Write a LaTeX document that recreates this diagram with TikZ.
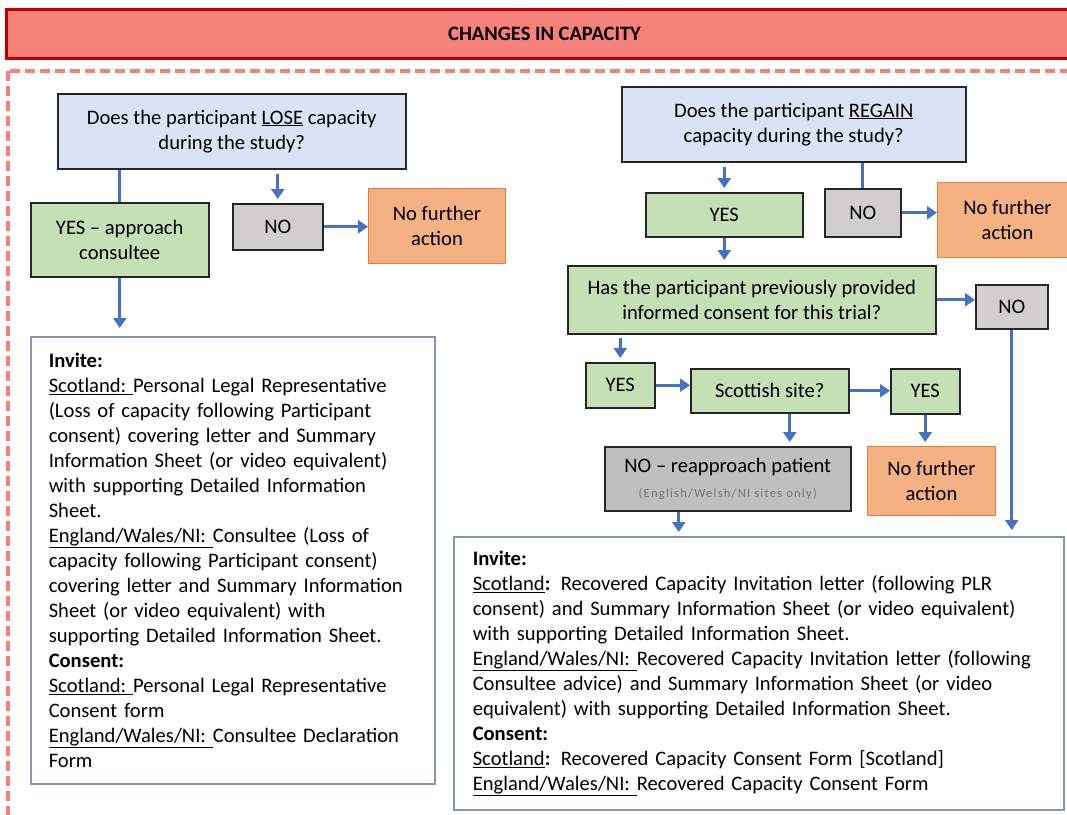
\documentclass[tikz,border=0pt]{standalone}
\usepackage{fontspec}
\setmainfont{Carlito}
\usepackage{xcolor}
\usetikzlibrary{arrows.meta,calc}

\definecolor{qblue}{HTML}{DAE3F3}
\definecolor{ygreen}{HTML}{C5E0B4}
\definecolor{ngray}{HTML}{D0CECE}
\definecolor{rgray}{HTML}{BFBFBF}
\definecolor{nfafill}{HTML}{F4B183}
\definecolor{nfaedge}{HTML}{ED7D31}
\definecolor{arrblue}{HTML}{4472C4}
\definecolor{titlefill}{HTML}{F6807A}
\definecolor{titleedge}{HTML}{C00000}
\definecolor{infoedge}{HTML}{8496B0}
\definecolor{boxedge}{HTML}{262626}

\newcommand{\bodyfont}{\fontsize{20.6}{25}\selectfont}
\newcommand{\tinyfont}{\fontsize{12.5}{14}\selectfont\addfontfeature{LetterSpace=10}\color{black!55}}

\tikzset{
  box/.style={draw=boxedge, line width=1.5pt, inner sep=0pt, align=center, anchor=north west, font=\bodyfont},
  qbox/.style={box, fill=qblue},
  ybox/.style={box, fill=ygreen},
  nbox/.style={box, fill=ngray},
  nfabox/.style={box, fill=nfafill, draw=nfaedge, line width=1pt},
  infobox/.style={draw=infoedge, line width=1.5pt, fill=white, anchor=north west, align=left, inner ysep=0pt, font=\bodyfont},
  link/.style={draw=arrblue, line width=3pt},
  arr/.style={link, -{Triangle[width=13pt,length=10pt]}},
}

\begin{document}
\begin{tikzpicture}[x=1pt, y=-1pt]
\useasboundingbox (0,0) rectangle (1067,814);
\clip (0,0) rectangle (1067,814);

% title and frame
\node[box, draw=titleedge, line width=3pt, fill=titlefill, minimum width=1076pt, minimum height=49pt, font=\fontsize{20.5}{24}\selectfont\bfseries] (title) at (5,8) {CHANGES IN CAPACITY};
\draw[titlefill, line width=4pt, dash pattern=on 10pt off 5pt] (8,71) rectangle (1120,900);

% lose capacity
\node[qbox, minimum width=348pt, minimum height=75pt] (lose) at (57,93) {Does the participant \underline{LOSE} capacity\\during the study?};
\node[ybox, minimum width=178pt, minimum height=74pt] (yesL) at (30,202) {YES -- approach\\consultee};
\node[nbox, minimum width=90pt, minimum height=46pt] (noL) at (232,203) {NO};
\node[nfabox, minimum width=137pt, minimum height=75pt] (nfaL) at (368,188) {No further\\action};
\node[infobox, text width=368pt, inner xsep=18pt, minimum height=447pt] (infoL) at (30,336) {\textbf{Invite:}\\
\underline{Scotland:\ }Personal Legal Representative\\
(Loss of capacity following Participant\\
consent) covering letter and Summary\\
Information Sheet (or video equivalent)\\
with supporting Detailed Information\\
Sheet.\\
\underline{England/Wales/NI:\ }Consultee (Loss of\\
capacity following Participant consent)\\
covering letter and Summary Information\\
Sheet (or video equivalent) with\\
supporting Detailed Information Sheet.\\
\textbf{Consent:}\\
\underline{Scotland:\ }Personal Legal Representative\\
Consent form\\
\underline{England/Wales/NI:\ }Consultee Declaration\\
Form};

% regain capacity
\node[qbox, minimum width=344pt, minimum height=75pt] (regain) at (621,86) {Does the participant \underline{REGAIN}\\capacity during the study?};
\node[ybox, minimum width=157pt, minimum height=44pt] (yesR) at (645,192) {YES};
\node[nbox, minimum width=76pt, minimum height=48pt] (noR) at (824,188) {NO};
\node[nfabox, minimum width=140pt, minimum height=75pt] (nfaR) at (937,182) {No further\\action};
\node[ybox, minimum width=368pt, minimum height=68pt] (prior) at (567,265) {Has the participant previously provided\\informed consent for this trial?};
\node[nbox, minimum width=72pt, minimum height=44pt] (noP) at (975,284) {NO};
\node[ybox, minimum width=69pt, minimum height=45pt] (yesP) at (585,362) {YES};
\node[ybox, minimum width=158pt, minimum height=44pt] (scot) at (690,368) {Scottish site?};
\node[ybox, minimum width=69pt, minimum height=45pt] (yesS) at (890,368) {YES};
\node[nfabox, minimum width=128pt, minimum height=69pt] (nfaS) at (867,446) {No further\\action};
\node[box, fill=rgray, minimum width=246pt, minimum height=64pt] (reappr) at (604,446) {NO -- reapproach patient\\{\tinyfont (English/Welsh/NI sites only)}};
\node[infobox, text width=572pt, inner xsep=19pt, minimum height=273pt] (infoR) at (453,536) {\textbf{Invite:}\\
\underline{Scotland}\textbf{:} Recovered Capacity Invitation letter (following PLR\\
consent) and Summary Information Sheet (or video equivalent)\\
with supporting Detailed Information Sheet.\\
\underline{England/Wales/NI:\ }Recovered Capacity Invitation letter (following\\
Consultee advice) and Summary Information Sheet (or video\\
equivalent) with supporting Detailed Information Sheet.\\
\textbf{Consent:}\\
\underline{Scotland}\textbf{:} Recovered Capacity Consent Form [Scotland]\\
\underline{England/Wales/NI:\ }Recovered Capacity Consent Form};

% connectors left
\draw[link] (yesL.north |- lose.south) -- (yesL.north);
\draw[arr, shorten <=4pt, shorten >=4pt] (noL.north |- lose.south) -- (noL.north);
\draw[arr] (noL.east) -- (noL.east -| nfaL.west);
\draw[arr, shorten >=8pt] (yesL.south) -- (yesL.south |- infoL.north);

% connectors right
\draw[arr, shorten <=4pt, shorten >=4pt] (yesR.north |- regain.south) -- (yesR.north);
\draw[link] (noR.north |- regain.south) -- (noR.north);
\draw[arr] (noR.east) -- (noR.east -| nfaR.west);
\draw[arr, shorten >=5pt] (yesR.south) -- (yesR.south |- prior.north);
\draw[arr] (prior.east) -- (prior.east -| noP.west);
\draw[arr, shorten >=6pt] (noP.south) -- (noP.south |- infoR.north);
\draw[arr, shorten <=3pt, shorten >=4pt] (yesP.north |- prior.south) -- (yesP.north);
\draw[arr] (yesP.east) -- (yesP.east -| scot.west);
\draw[arr] (scot.east) -- (scot.east -| yesS.west);
\draw[arr, shorten >=4pt] (yesS.south) -- (yesS.south |- nfaS.north);
\coordinate (scotout) at ($(scot.south)+(20,0)$);
\draw[arr, shorten >=4pt] (scotout) -- (scotout |- reappr.north);
\coordinate (reapprout) at ($(reappr.south)+(-49,0)$);
\draw[arr, shorten >=4pt] (reapprout) -- (reapprout |- infoR.north);
\end{tikzpicture}
\end{document}
